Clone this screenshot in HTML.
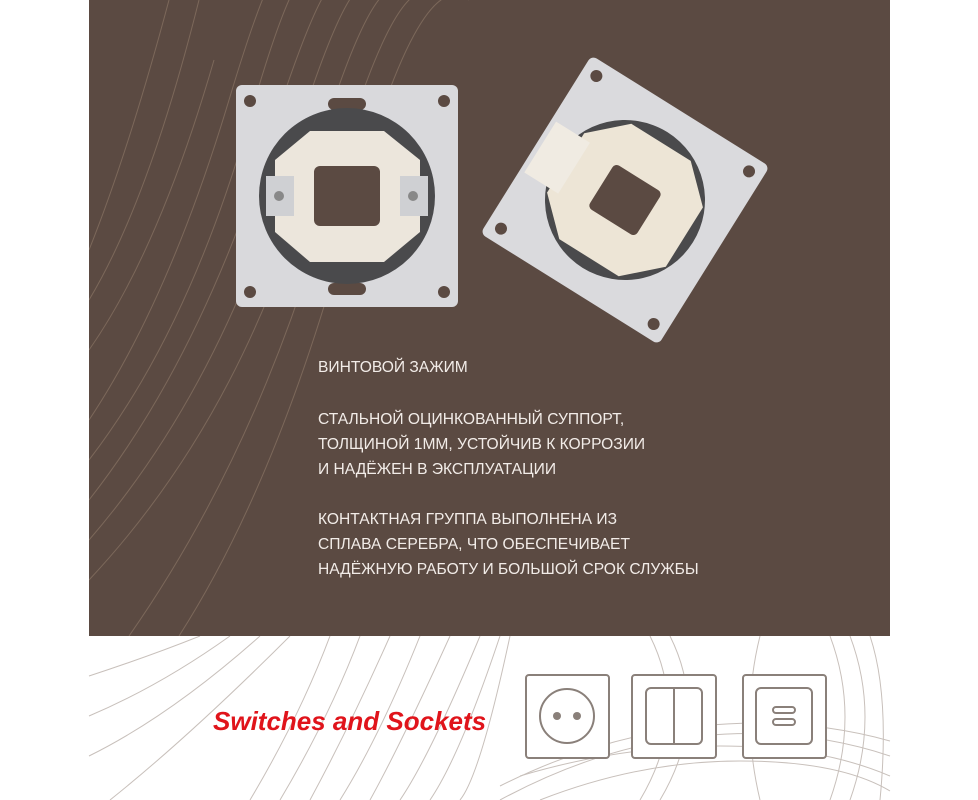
<!DOCTYPE html>
<html><head><meta charset="utf-8"><style>
body{margin:0;width:978px;height:800px;background:#fff;position:relative;overflow:hidden;font-family:"Liberation Sans",sans-serif}
#brown{position:absolute;left:89px;top:0;width:801px;height:636px;background:#5b4a42}
.t{position:absolute;left:318px;color:#f2ece8;font-size:15.6px;line-height:25px;letter-spacing:0}
#red{position:absolute;left:213px;top:706px;color:#e0141b;font-size:26px;font-weight:bold;font-style:italic}
</style></head><body>
<div id="brown">
<svg width="801" height="636" style="position:absolute;left:0;top:0">
<g stroke="#8a7565" stroke-width="1" fill="none" opacity="0.7">
<path d="M0 420 Q80 300 140 100 T200 0"/><path d="M0 460 Q100 330 160 120 T230 0"/>
<path d="M0 500 Q110 360 180 140 T260 0"/><path d="M0 540 Q130 390 200 160 T290 0"/>
<path d="M0 580 Q150 420 220 180 T320 0"/><path d="M40 636 Q170 450 240 200 T350 0"/>
<path d="M90 636 Q190 480 260 220 T380 0"/><path d="M0 300 Q60 200 110 0"/>
<path d="M0 250 Q40 150 80 0"/><path d="M0 350 Q70 250 125 60"/>
</g>
</svg>
</div>
<svg width="978" height="800" style="position:absolute;left:0;top:0">
<g>
<rect x="236" y="85" width="222" height="222" rx="6" fill="#d9d9dc"/>
<circle cx="250" cy="101" r="6" fill="#5b4a42"/><circle cx="444" cy="101" r="6" fill="#5b4a42"/>
<circle cx="250" cy="292" r="6" fill="#5b4a42"/><circle cx="444" cy="292" r="6" fill="#5b4a42"/>
<rect x="328" y="98" width="38" height="12" rx="6" fill="#5b4a42"/><rect x="328" y="283" width="38" height="12" rx="6" fill="#5b4a42"/>
<circle cx="347" cy="196" r="88" fill="#4a4a4c"/>
<polygon points="310,131 384,131 420,160 420,232 384,262 310,262 275,232 275,160" fill="#ece6dc"/>
<rect x="314" y="166" width="66" height="60" rx="6" fill="#5b4a42"/>
<rect x="266" y="176" width="28" height="40" fill="#cfd0d3"/><rect x="400" y="176" width="28" height="40" fill="#cfd0d3"/>
<circle cx="279" cy="196" r="5" fill="#888"/><circle cx="413" cy="196" r="5" fill="#888"/>
</g>
<g transform="translate(625,200) rotate(32)">
<rect x="-105" y="-105" width="210" height="210" rx="6" fill="#dadadd"/>
<circle cx="-90" cy="-90" r="6" fill="#5b4a42"/><circle cx="90" cy="-90" r="6" fill="#5b4a42"/>
<circle cx="-90" cy="90" r="6" fill="#5b4a42"/><circle cx="90" cy="90" r="6" fill="#5b4a42"/>
<circle cx="0" cy="0" r="80" fill="#4a4a4c"/>
<polygon points="-35,-68 35,-68 70,-35 70,35 35,68 -35,68 -70,35 -70,-35" fill="#ede5d6"/>
<rect x="-28" y="-26" width="56" height="52" rx="5" fill="#5b4a42"/>
<rect x="-100" y="-30" width="40" height="60" fill="#f0ebe2"/>
</g>
</svg>
<div class="t" style="top:355px">ВИНТОВОЙ ЗАЖИМ</div>
<div class="t" style="top:407px">СТАЛЬНОЙ ОЦИНКОВАННЫЙ СУППОРТ,<br>ТОЛЩИНОЙ 1ММ, УСТОЙЧИВ К КОРРОЗИИ<br>И НАДЁЖЕН В ЭКСПЛУАТАЦИИ</div>
<div class="t" style="top:507px">КОНТАКТНАЯ ГРУППА ВЫПОЛНЕНА ИЗ<br>СПЛАВА СЕРЕБРА, ЧТО ОБЕСПЕЧИВАЕТ<br>НАДЁЖНУЮ РАБОТУ И БОЛЬШОЙ СРОК СЛУЖБЫ</div>
<svg width="978" height="164" style="position:absolute;left:0;top:636px">
<g stroke="#c8c0bb" stroke-width="1" fill="none">
<path d="M89 40 Q150 20 200 0"/><path d="M89 80 Q160 50 230 0"/><path d="M89 120 Q170 80 260 0"/><path d="M110 164 Q190 100 290 0"/>
<path d="M250 164 Q300 80 330 0"/><path d="M280 164 Q330 80 360 0"/><path d="M310 164 Q350 90 390 0"/>
<path d="M340 164 Q380 100 420 0"/><path d="M370 164 Q400 110 450 0"/><path d="M400 164 Q430 120 480 0"/>
<path d="M430 164 Q460 120 500 0"/><path d="M460 164 Q480 140 510 0"/>
<path d="M500 164 Q600 110 700 100 T890 120"/><path d="M500 150 Q600 100 700 90 T890 105"/>
<path d="M520 140 Q620 110 720 110 T890 140"/><path d="M540 164 Q640 125 740 125 T890 155"/>
<path d="M650 0 Q690 80 640 164"/><path d="M670 0 Q710 80 660 164"/><path d="M760 0 Q740 80 760 164"/>
<path d="M850 0 Q880 80 850 164"/><path d="M870 0 Q890 60 880 164"/><path d="M830 0 Q860 80 830 164"/>
</g>
<g stroke="#8a807a" stroke-width="2" fill="#fff">
<rect x="526" y="39" width="83" height="83" rx="3"/>
<circle cx="567" cy="80" r="27"/>
<rect x="632" y="39" width="84" height="83" rx="3"/>
<rect x="646" y="52" width="56" height="56" rx="5"/><line x1="674" y1="52" x2="674" y2="108"/>
<rect x="743" y="39" width="83" height="83" rx="3"/>
<rect x="756" y="52" width="56" height="56" rx="5"/>
<rect x="773" y="71" width="22" height="6" rx="3"/><rect x="773" y="83" width="22" height="6" rx="3"/>
</g>
<circle cx="557" cy="80" r="4" fill="#8a807a"/><circle cx="577" cy="80" r="4" fill="#8a807a"/>
</svg>
<div id="red">Switches and Sockets</div>
</body></html>
